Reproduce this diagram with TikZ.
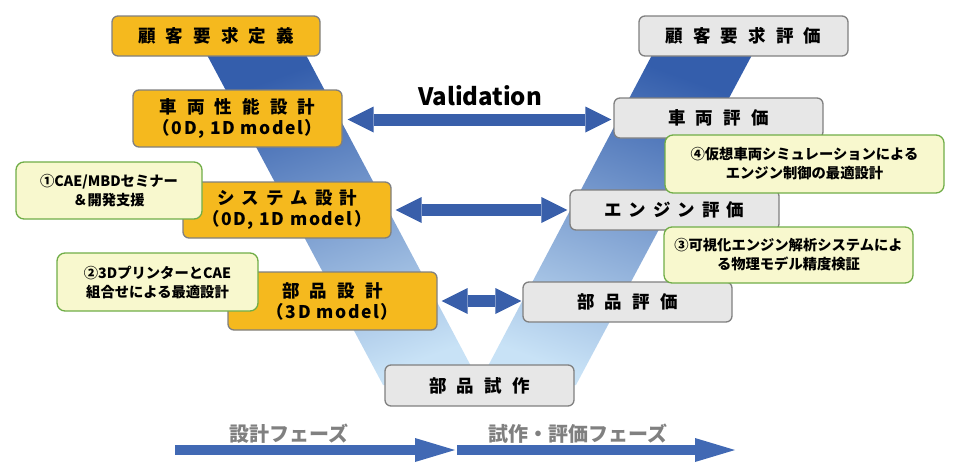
\documentclass[tikz,border=0pt]{standalone}
\usepackage{fontspec}
\newfontfamily\jp{Noto Sans CJK JP}
\usetikzlibrary{arrows.meta}
\definecolor{orangebox}{RGB}{245,185,30}
\definecolor{boxborder}{RGB}{128,128,128}
\definecolor{graybox}{RGB}{231,231,231}
\definecolor{calloutfill}{RGB}{248,248,206}
\definecolor{calloutborder}{RGB}{112,173,71}
\definecolor{arrowblue}{RGB}{57,95,170}
\definecolor{phaseblue}{RGB}{65,105,180}
\definecolor{phasegray}{RGB}{128,128,128}
\definecolor{banddark}{RGB}{52,94,172}
\definecolor{bandmid}{RGB}{135,163,215}
\definecolor{bandlight}{RGB}{200,226,246}
\newcommand\gp{\hspace{0.58em}}
\newcommand\gk{\hspace{0.4em}}
\newcommand\mdl[1]{{\addfontfeature{LetterSpace=9}#1}}
\begin{document}
\begin{tikzpicture}[x=1pt,y=-1pt,
  basebox/.style={rectangle, rounded corners=6pt, line width=1.3pt, draw=boxborder, inner sep=0pt, align=center, font=\jp\bfseries\fontsize{17.5}{21}\selectfont},
  obox/.style={basebox, fill=orangebox},
  gbox/.style={basebox, fill=graybox},
  callout/.style={rectangle, rounded corners=8pt, line width=1.3pt, draw=calloutborder, fill=calloutfill, inner sep=0pt, align=center, font=\jp\bfseries\fontsize{14.3}{19}\selectfont},
  dblarrow/.style={draw=arrowblue, line width=12pt, {Triangle[length=26pt,width=26pt,line width=0pt]}-{Triangle[length=26pt,width=26pt,line width=0pt]}},
  phasearrow/.style={draw=phaseblue, line width=10pt, -{Triangle[length=40pt,width=24pt,line width=0pt]}},
  phaselabel/.style={font=\jp\bfseries\fontsize{20}{24}\selectfont, text=phasegray, inner sep=0pt},
]
\useasboundingbox (0,0) rectangle (960,471);
% V bands
\shade[top color=banddark, middle color=bandmid, bottom color=bandlight, shading angle=20]
  (207,55) -- (306,55) -- (481,385) -- (383,385) -- cycle;
\shade[top color=banddark, middle color=bandmid, bottom color=bandlight, shading angle=-20]
  (652,55) -- (752,55) -- (576,385) -- (478,385) -- cycle;
% boxes
\node[obox, minimum width=208pt, minimum height=40pt] (req) at (216,36) {顧\gp 客\gp 要\gp 求\gp 定\gp 義};
\node[obox, minimum width=209pt, minimum height=57pt] (perf) at (237.5,118.5) {車\gp 両\gp 性\gp 能\gp 設\gp 計\\\mdl{（0D, 1D model）}};
\node[obox, minimum width=208pt, minimum height=56pt] (sys) at (287,210) {シ\gk ス\gk テ\gk ム\gk 設\gk 計\\\mdl{（0D, 1D model）}};
\node[obox, minimum width=209pt, minimum height=58pt] (part) at (332.5,301) {部\gp 品\gp 設\gp 計\\\mdl{（3D model）}};
\node[gbox, minimum width=189pt, minimum height=41pt] (proto) at (479.5,385.5) {部\gp 品\gp 試\gp 作};
\node[gbox, minimum width=209pt, minimum height=40pt] (reqev) at (743.5,36) {顧\gp 客\gp 要\gp 求\gp 評\gp 価};
\node[gbox, minimum width=209pt, minimum height=40pt] (vehev) at (718.5,118) {車\gp 両\gp 評\gp 価};
\node[gbox, minimum width=209pt, minimum height=40pt] (engev) at (674.5,210) {エ\gk ン\gk ジ\gk ン\gk 評\gk 価};
\node[gbox, minimum width=209pt, minimum height=40pt] (partev) at (627.5,302) {部\gp 品\gp 評\gp 価};
% callouts
\node[callout, minimum width=186pt, minimum height=57pt] (c1) at (109,190.5) {①CAE/MBDセミナー\\＆開発支援};
\node[callout, minimum width=201pt, minimum height=58pt] (c2) at (157.5,282) {②3DプリンターとCAE\\組合せによる最適設計};
\node[callout, minimum width=279pt, minimum height=58pt] (c4) at (804.5,164) {④仮想車両シミュレーションによる\\エンジン制御の最適設計};
\node[callout, minimum width=249pt, minimum height=56pt] (c3) at (788.5,255) {③可視化エンジン解析システムによ\\る物理モデル精度検証};
% validation arrows
\node[font=\jp\bfseries\fontsize{24}{28}\selectfont, anchor=base, inner sep=0pt] (val) at (480,105) {Validation};
\draw[dblarrow] ([xshift=5pt,yshift=-1pt]perf.east) -- ([xshift=-2pt,yshift=-1pt]perf.east -| vehev.west);
\draw[dblarrow] ([xshift=4pt]sys.east) -- ([xshift=-2pt]sys.east -| engev.west);
\draw[dblarrow] ([xshift=4pt]part.east) -- ([xshift=-1pt]part.east -| partev.west);
% phase arrows
\coordinate (p1s) at (175,450);
\coordinate (p1e) at (455,450);
\coordinate (p2s) at (457,450);
\coordinate (p2e) at (735,450);
\draw[phasearrow] (p1s) -- (p1e);
\draw[phasearrow] (p2s) -- (p2e);
\node[phaselabel] (ph1) at (289,434) {設計フェーズ};
\node[phaselabel] (ph2) at (577.5,434) {試作・評価フェーズ};
\end{tikzpicture}
\end{document}
